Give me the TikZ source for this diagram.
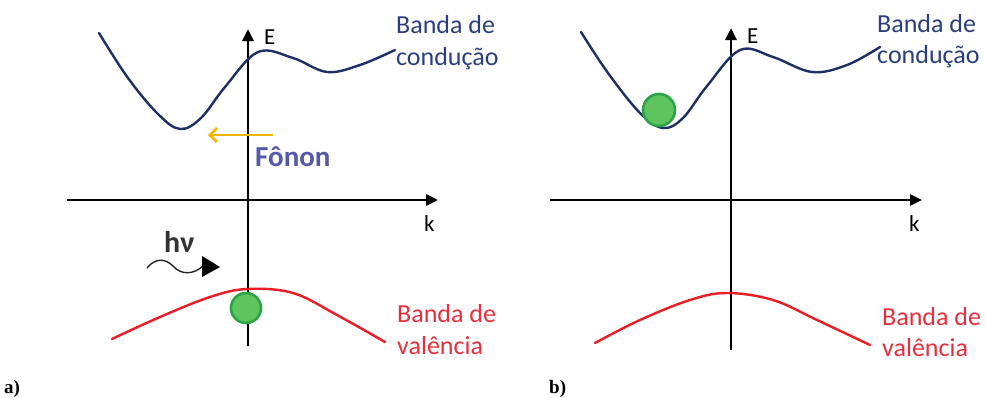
\documentclass[tikz,border=0pt]{standalone}
\usepackage{fontspec}
\setmainfont{Carlito}
\newfontfamily\labfont{Liberation Serif}
\usetikzlibrary{arrows.meta}
\definecolor{cbblue}{HTML}{1E2F66}
\definecolor{cblabel}{HTML}{2B3F80}
\definecolor{vbred}{HTML}{EC1C24}
\definecolor{vblabel}{HTML}{E8303C}
\definecolor{fonon}{HTML}{5658A8}
\definecolor{orangearr}{HTML}{F2B600}
\definecolor{gfill}{HTML}{5EC45E}
\definecolor{gedge}{HTML}{2BA346}
\begin{document}
\begin{tikzpicture}[x=1pt,y=-1pt,
  axis/.style={line width=2.8pt,-{Triangle[length=12pt,width=11pt]}},
  cband/.style={cbblue,line width=2.4pt,line cap=round},
  vband/.style={vbred,line width=2.4pt,line cap=round},
  blabel/.style={anchor=base west,inner sep=0pt,font=\fontsize{26}{32}\selectfont},
  axlabel/.style={anchor=base west,inner sep=0pt,font=\fontsize{23}{26}\selectfont},
  carrier/.style={circle,fill=gfill,draw=gedge,line width=2.6pt,minimum size=30pt,inner sep=0pt},
  panlabel/.style={anchor=base west,inner sep=0pt,font=\labfont\bfseries\fontsize{19}{22}\selectfont}
]
\useasboundingbox[fill=white] (0,0) rectangle (985,397);

% ---------------- panel a ----------------
\draw[axis] (67,200) -- (438,200);
\draw[axis] (248,346) -- (248,29);
\node[axlabel] (Ea) at (264,44) {E};
\node[axlabel] (ka) at (424,231) {k};
\draw[cband] plot[smooth,tension=0.6] coordinates {(99,33) (128,78) (158,114) (180,129) (201,118) (225,87) (258,52) (293,58) (327,72) (360,65) (395,50)};
\draw[vband] plot[smooth,tension=0.6] coordinates {(112,339) (160,317) (210,297) (247,289) (293,293) (337,315) (385,342)};
\node[carrier] (ga) at (246,308) {};
\node[blabel,cblabel] (cba1) at (396,33) {Banda de};
\node[blabel,cblabel] (cba2) at (396,65) {condução};
\node[blabel,vblabel] (vba1) at (397,322) {Banda de};
\node[blabel,vblabel] (vba2) at (397,354) {valência};
\coordinate (fonS) at (273,135);
\coordinate (fonE) at (208,135);
\draw[orangearr,line width=2.8pt,-{Straight Barb[length=7pt,width=14pt,line width=2.8pt]}] (fonS) -- (fonE);
\node[anchor=base west,inner sep=0pt,fonon,font=\bfseries\fontsize{29}{36}\selectfont] (fon) at (255,166) {Fônon};
\node[anchor=base west,inner sep=0pt,font=\bfseries\fontsize{30}{36}\selectfont,black!80] (hv) at (164,252) {hν};
\coordinate (wS) at (147,268);
\coordinate (wE) at (203,266);
\draw[line width=1.4pt,black!85] (wS) .. controls (155,258) and (165,258) .. (173,266) .. controls (181,275) and (193,275) .. (wE);
\fill[black] (202,256) -- (220,267) -- (202,277) -- cycle;
\node[panlabel] (pa) at (4,393) {a)};

% ---------------- panel b ----------------
\draw[axis] (550,200) -- (922,200);
\draw[axis] (731,350) -- (731,28);
\node[axlabel] (Eb) at (747,43) {E};
\node[axlabel] (kb) at (909,231) {k};
\draw[cband] plot[smooth,tension=0.6] coordinates {(581,32) (608,73) (640,113) (663,128) (683,118) (707,86) (740,50) (773,57) (812,72) (847,65) (880,47)};
\draw[vband] plot[smooth,tension=0.6] coordinates {(595,343) (640,320) (690,300) (727,293) (773,300) (817,320) (870,345)};
\node[carrier,minimum size=32pt] (gb) at (659,110) {};
\node[blabel,cblabel] (cbb1) at (877,32) {Banda de};
\node[blabel,cblabel] (cbb2) at (877,63) {condução};
\node[blabel,vblabel] (vbb1) at (882,325) {Banda de};
\node[blabel,vblabel] (vbb2) at (882,356) {valência};
\node[panlabel] (pb) at (549,393) {b)};
\end{tikzpicture}
\end{document}
